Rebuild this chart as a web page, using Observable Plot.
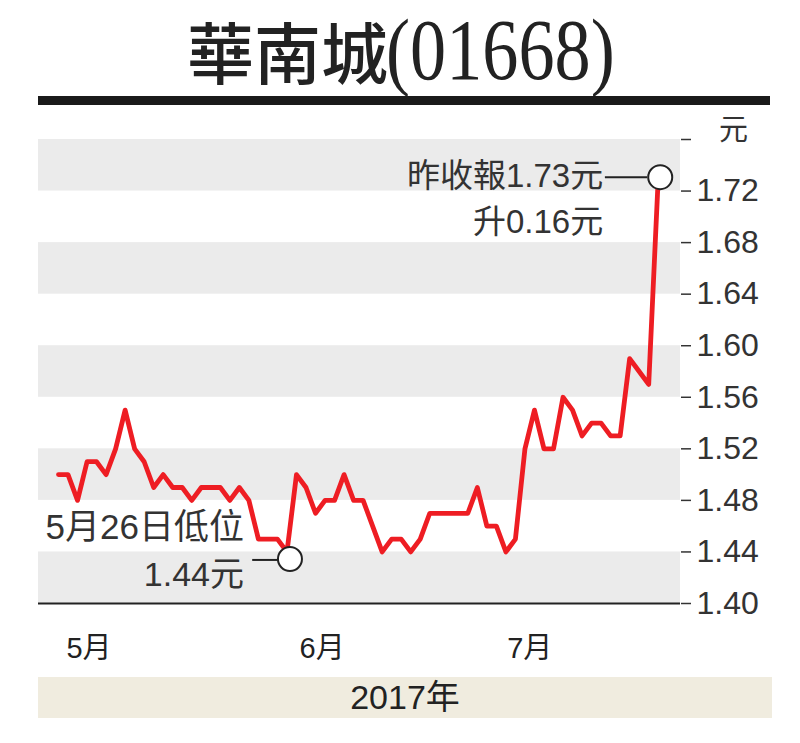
<!DOCTYPE html>
<html>
<head>
<meta charset="utf-8">
<script src="https://cdn.jsdelivr.net/npm/d3@7"></script>
<script src="https://cdn.jsdelivr.net/npm/@observablehq/plot@0.6"></script>
<style>
  html, body { margin: 0; padding: 0; background: #fff; }
  #page { position: relative; width: 800px; height: 743px; overflow: hidden; background: #fff; }
  #title { position: absolute; left: 0; top: 0; width: 800px; height: 104px; color: #222; }
  #t-cjk { position: absolute; left: 187px; top: 1px; font: 500 67px "Noto Sans CJK TC", sans-serif; line-height: normal;
           white-space: nowrap; }
  #t-code { position: absolute; left: 386px; top: 0px; font: 86px "Liberation Serif", serif; line-height: normal;
            white-space: nowrap; transform: scaleX(0.84); transform-origin: 0 0; }
  #rule { position: absolute; left: 38px; top: 96px; width: 732px; height: 9px; background: #1a1a1a; }
  #chart { position: absolute; left: 0; top: 106px; }
  #year { position: absolute; left: 38px; top: 677px; width: 734px; height: 41px; background: #f0ecdf;
          font: 34px "Liberation Sans", "Noto Sans CJK TC", sans-serif; color: #222; text-align: center; line-height: 41px; }
</style>
</head>
<body>
<div id="page">
  <div id="title"><span id="t-cjk">華南城</span><span id="t-code">(01668)</span></div>
  <div id="rule"></div>
  <div id="chart"></div>
  <div id="year">2017年</div>
</div>
<script>
// Daily closing prices (HK$), trading-day index 0..63
const prices = [1.50,1.50,1.48,1.51,1.51,1.50,1.52,1.55,1.52,1.51,
                1.49,1.50,1.49,1.49,1.48,1.49,1.49,1.49,1.48,1.49,
                1.48,1.45,1.45,1.45,1.44,1.50,1.49,1.47,1.48,1.48,
                1.50,1.48,1.48,1.46,1.44,1.45,1.45,1.44,1.45,1.47,
                1.47,1.47,1.47,1.47,1.49,1.46,1.46,1.44,1.45,1.52,
                1.55,1.52,1.52,1.56,1.55,1.53,1.54,1.54,1.53,1.53,
                1.59,1.58,1.57,1.73];
// Month tick labels and their trading-day positions
const monthLabels = ["5月", "6月", "7月"];
const monthPos = [3.2, 27.7, 49.5];
// Y ticks and shaded bands
const yTicks = [1.40, 1.44, 1.48, 1.52, 1.56, 1.60, 1.64, 1.68, 1.72, 1.76];
const bandLo = [1.40, 1.48, 1.56, 1.64, 1.72];
const bandHi = [1.44, 1.52, 1.60, 1.68, 1.76];
// Annotations
const lowIdx = 24, lowVal = 1.44;
const lowLines = ["5月26日低位", "1.44元"];
const lastIdx = 63, lastVal = 1.73;
const lastLines = ["昨收報1.73元", "升0.16元"];

const series = prices.map((v, i) => ({i, v}));
const bands = bandLo.map((lo, k) => ({lo, hi: bandHi[k]}));
const lowPt = [{i: lowIdx, v: lowVal}];
const lastPt = [{i: lastIdx, v: lastVal}];

const chart = Plot.plot({
  width: 800,
  height: 570,
  marginLeft: 38,
  marginRight: 120,
  marginTop: 33,
  marginBottom: 73,
  style: {fontFamily: "'Liberation Sans', 'Noto Sans CJK TC', sans-serif", background: "transparent", overflow: "visible"},
  x: {domain: [-2.1, 65.34], axis: null},
  y: {domain: [1.40, 1.76], label: null},
  marks: [
    Plot.rect(bands, {y1: "lo", y2: "hi", fill: "#ebebeb"}),
    Plot.ruleY([1.40], {stroke: "#222", strokeWidth: 2}),
    Plot.axisY({anchor: "right", ticks: yTicks, tickSize: 10, tickPadding: 6, label: null,
                tickFormat: d => d > 1.75 ? "" : d.toFixed(2), fontSize: 32, color: "#333", strokeWidth: 1.5}),
    Plot.text(["元"], {frameAnchor: "top-right", textAnchor: "middle", lineAnchor: "middle", dx: 53, dy: -9, fontSize: 29, fill: "#333"}),
    Plot.text(monthPos, {x: d => d, text: (d, k) => monthLabels[k], frameAnchor: "bottom", lineAnchor: "middle", dy: 45, fontSize: 29, fill: "#222"}),
    Plot.line(series, {x: "i", y: "v", stroke: "#ee1d23", strokeWidth: 4.8, strokeLinejoin: "round"}),
    // low annotation
    Plot.ruleY(lowPt, {y: "v", x1: d => d.i - 3.6, x2: d => d.i - 0.9, dy: 8, stroke: "#222", strokeWidth: 2}),
    Plot.dot(lowPt, {x: "i", y: "v", r: 12, dx: 3, dy: 7, fill: "white", stroke: "#222", strokeWidth: 2}),
    Plot.text(lowPt, {x: "i", y: "v", text: () => lowLines[0], textAnchor: "end", dx: -43, dy: -24, fontSize: 35, fill: "#333"}),
    Plot.text(lowPt, {x: "i", y: "v", text: () => lowLines[1], textAnchor: "end", dx: -43, dy: 23, fontSize: 34, fill: "#333"}),
    // last annotation
    Plot.ruleY(lastPt, {y: "v", x1: d => d.i - 5.55, x2: d => d.i - 1.1, dy: -1, stroke: "#222", strokeWidth: 2}),
    Plot.dot(lastPt, {x: "i", y: "v", r: 12, dx: 2, dy: -1, fill: "white", stroke: "#222", strokeWidth: 2}),
    Plot.text(lastPt, {x: "i", y: "v", text: () => lastLines[0], textAnchor: "end", dx: -55, dy: -2, fontSize: 33, fill: "#333"}),
    Plot.text(lastPt, {x: "i", y: "v", text: () => lastLines[1], textAnchor: "end", dx: -55, dy: 44, fontSize: 33, fill: "#333"})
  ]
});
document.getElementById("chart").appendChild(chart);
</script>
</body>
</html>
